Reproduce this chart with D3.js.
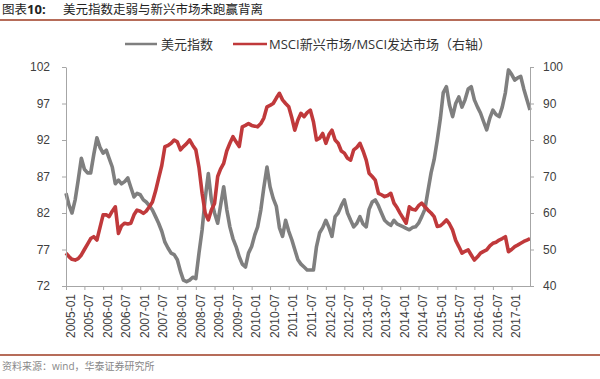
<!DOCTYPE html>
<html><head><meta charset="utf-8">
<script src="https://cdn.jsdelivr.net/npm/d3@7/dist/d3.min.js"></script>
<style>
body{margin:0;background:#fff;}
svg{display:block;font-family:"Open Sans","Noto Sans CJK SC",sans-serif;}
</style></head>
<body>
<svg id="chart" width="600" height="379"></svg>
<script>
const startMonth = "2005-01";
const tickLabels = ["2005-01","2005-07","2006-01","2006-07","2007-01","2007-07","2008-01","2008-07","2009-01","2009-07","2010-01","2010-07","2011-01","2011-07","2012-01","2012-07","2013-01","2013-07","2014-01","2014-07","2015-01","2015-07","2016-01","2016-07","2017-01"];
const leftTicks = [72,77,82,87,92,97,102];
const rightTicks = [40,50,60,70,80,90,100];
// 美元指数 (monthly, from 2005-01)
const usdIndex = [84.7,83,82,83.8,86.5,89.5,88,87.5,87.5,90,92.3,91,
90.2,90.6,89.5,88.3,86,86.5,86,86.3,86.8,85.5,84.2,84.7,
84.5,83.8,83.5,83,82.4,81.5,80.6,79.5,78,77.2,76.5,76.3,
75.6,74,72.8,72.6,72.8,73.2,73,76.5,79.7,84,87.4,83.8,
82,80.6,83,85.6,82.5,80.1,78.5,77.4,76,75,74.6,76.5,
77.4,79,80.1,82.4,85.5,88.3,85.6,84,82.9,80,78.8,81,
79.5,78.3,77,75.6,75,74.6,74.2,74.2,74.2,77.4,79.3,80,
81,80,78.8,81.5,82,83,83.8,82,81,80.1,80.6,81.5,
80.5,80.1,82.5,83.5,83.8,83,82,81,80.6,80.3,81,80.5,
80.3,80.1,79.9,79.7,80,80.1,80.6,81.5,82.5,85,87.5,89.3,
92,95,98.5,99.3,96.8,95.2,97,97.9,96.5,97.5,99,99.3,
97.5,96.5,95.7,94.5,93.4,95,96.1,95.5,95.2,96.5,98.5,101.6,
101,100.2,100.5,100.7,99,97.5,96.1];
// MSCI新兴市场/MSCI发达市场 (右轴)
const emDmRatio = [49,48,47.3,47.1,47.5,48.5,50,51.5,53,53.5,52.6,56,
59.5,59.5,59,60.5,61.7,54.4,56.5,57.2,57,57.2,59.5,60.8,
60.5,59.9,60.5,61.7,63,66,69.5,73,78.2,78.5,79.1,80,
79.5,77.3,78.2,79,80,78.5,77.3,72.5,65.4,60,58.1,60.8,
62.6,70,72,73.6,77,79.1,80.9,79.5,78.2,83.6,84,84.5,
84,83.8,83.6,84.5,86,89.1,89.5,90,91.5,92.8,91,90,
89.1,86,82.7,85.5,87.3,86.4,87.5,88.2,85,80,80.5,81.8,
79.1,81.5,82.7,80,79.1,77,76.4,75,74.5,77.3,78,79.1,
77,74.5,70.9,70,69,65.4,65,64.5,64.8,65.4,62.7,61.5,
59.9,58.5,57.2,61.7,61,60.8,62,62.7,61.7,60.8,60,59,
56.3,56.5,57.2,58.1,57,55.3,52.5,50.8,49,49.5,49.9,48.5,
47.1,48,49,49.5,49.9,51,51.7,52,52.6,53,53.5,49.4,
50,50.8,51.2,51.7,52.2,52.6,53];
const seriesNames = ["美元指数","MSCI新兴市场/MSCI发达市场（右轴）"];

const svg = d3.select("#chart");
const parse = d3.timeParse("%Y-%m");
const t0 = parse(startMonth);
const dates = usdIndex.map((_, i) => d3.timeMonth.offset(t0, i));

const L = 66, R = 530, T = 67, B = 286;
const x = d3.scaleTime().domain([t0, d3.timeMonth.offset(t0, 150)]).range([L, R]);
const yL = d3.scaleLinear().domain([72, 102]).range([B, T]);
const yR = d3.scaleLinear().domain([40, 100]).range([B, T]);

const axisColor = "#a6a6a6", textColor = "#404040";

// title
const title = svg.append("text").attr("x", 2).attr("y", 14).attr("font-size", 12.5).attr("fill", "#222");
title.append("tspan").text("图表");
title.append("tspan").attr("font-weight", "bold").attr("font-size", 13).text("10:");
title.append("tspan").attr("x", 63).text("美元指数走弱与新兴市场未跑赢背离");
svg.append("line").attr("x1", 0).attr("x2", 600).attr("y1", 20).attr("y2", 20).attr("stroke", "#9e3b22").attr("stroke-width", 1.5);

// legend
const lg = [[125, 157, 161, "#7f7f7f"], [233, 267, 269, "#c0393b"]];
lg.forEach((d, i) => {
  svg.append("line").attr("x1", d[0]).attr("x2", d[1]).attr("y1", 44).attr("y2", 44).attr("stroke", d[3]).attr("stroke-width", 2.5);
  svg.append("text").attr("x", d[2]).attr("y", 49).attr("font-size", 13).attr("fill", "#333").text(seriesNames[i]);
});

// lines
const lineL = d3.line().x((d, i) => x(dates[i])).y(d => yL(d));
const lineR = d3.line().x((d, i) => x(dates[i])).y(d => yR(d));
svg.append("path").datum(usdIndex).attr("d", lineL).attr("fill", "none").attr("stroke", "#7f7f7f").attr("stroke-width", 3.6).attr("stroke-linejoin", "round");
svg.append("path").datum(emDmRatio).attr("d", lineR).attr("fill", "none").attr("stroke", "#c0393b").attr("stroke-width", 3.6).attr("stroke-linejoin", "round");

// axes
function styleAxis(g) {
  g.selectAll("path,line").attr("stroke", axisColor);
  g.selectAll("text").attr("fill", textColor).attr("font-size", 12);
}
svg.append("g").attr("transform", `translate(${L},0)`)
  .call(d3.axisLeft(yL).tickValues(leftTicks).tickSize(4).tickSizeOuter(0).tickPadding(12))
  .call(styleAxis);
svg.append("g").attr("transform", `translate(${R},0)`)
  .call(d3.axisRight(yR).tickValues(rightTicks).tickSize(4).tickSizeOuter(0).tickPadding(9))
  .call(styleAxis);
const xg = svg.append("g").attr("transform", `translate(0,${B})`)
  .call(d3.axisBottom(x).tickValues(tickLabels.map(parse)).tickFormat(d3.timeFormat("%Y-%m")).tickSize(4).tickSizeOuter(0))
  .call(styleAxis);
xg.selectAll(".tick text").attr("transform", "rotate(-90)").attr("text-anchor", "end")
  .attr("x", -8).attr("y", 4).attr("dy", "0.35em");

// footer
svg.append("line").attr("x1", 0).attr("x2", 600).attr("y1", 355).attr("y2", 355).attr("stroke", "#9e3b22").attr("stroke-width", 1.5);
svg.append("text").attr("x", 2).attr("y", 370).attr("font-size", 10).attr("fill", "#888").text("资料来源：wind，华泰证券研究所");
</script>
</body></html>
